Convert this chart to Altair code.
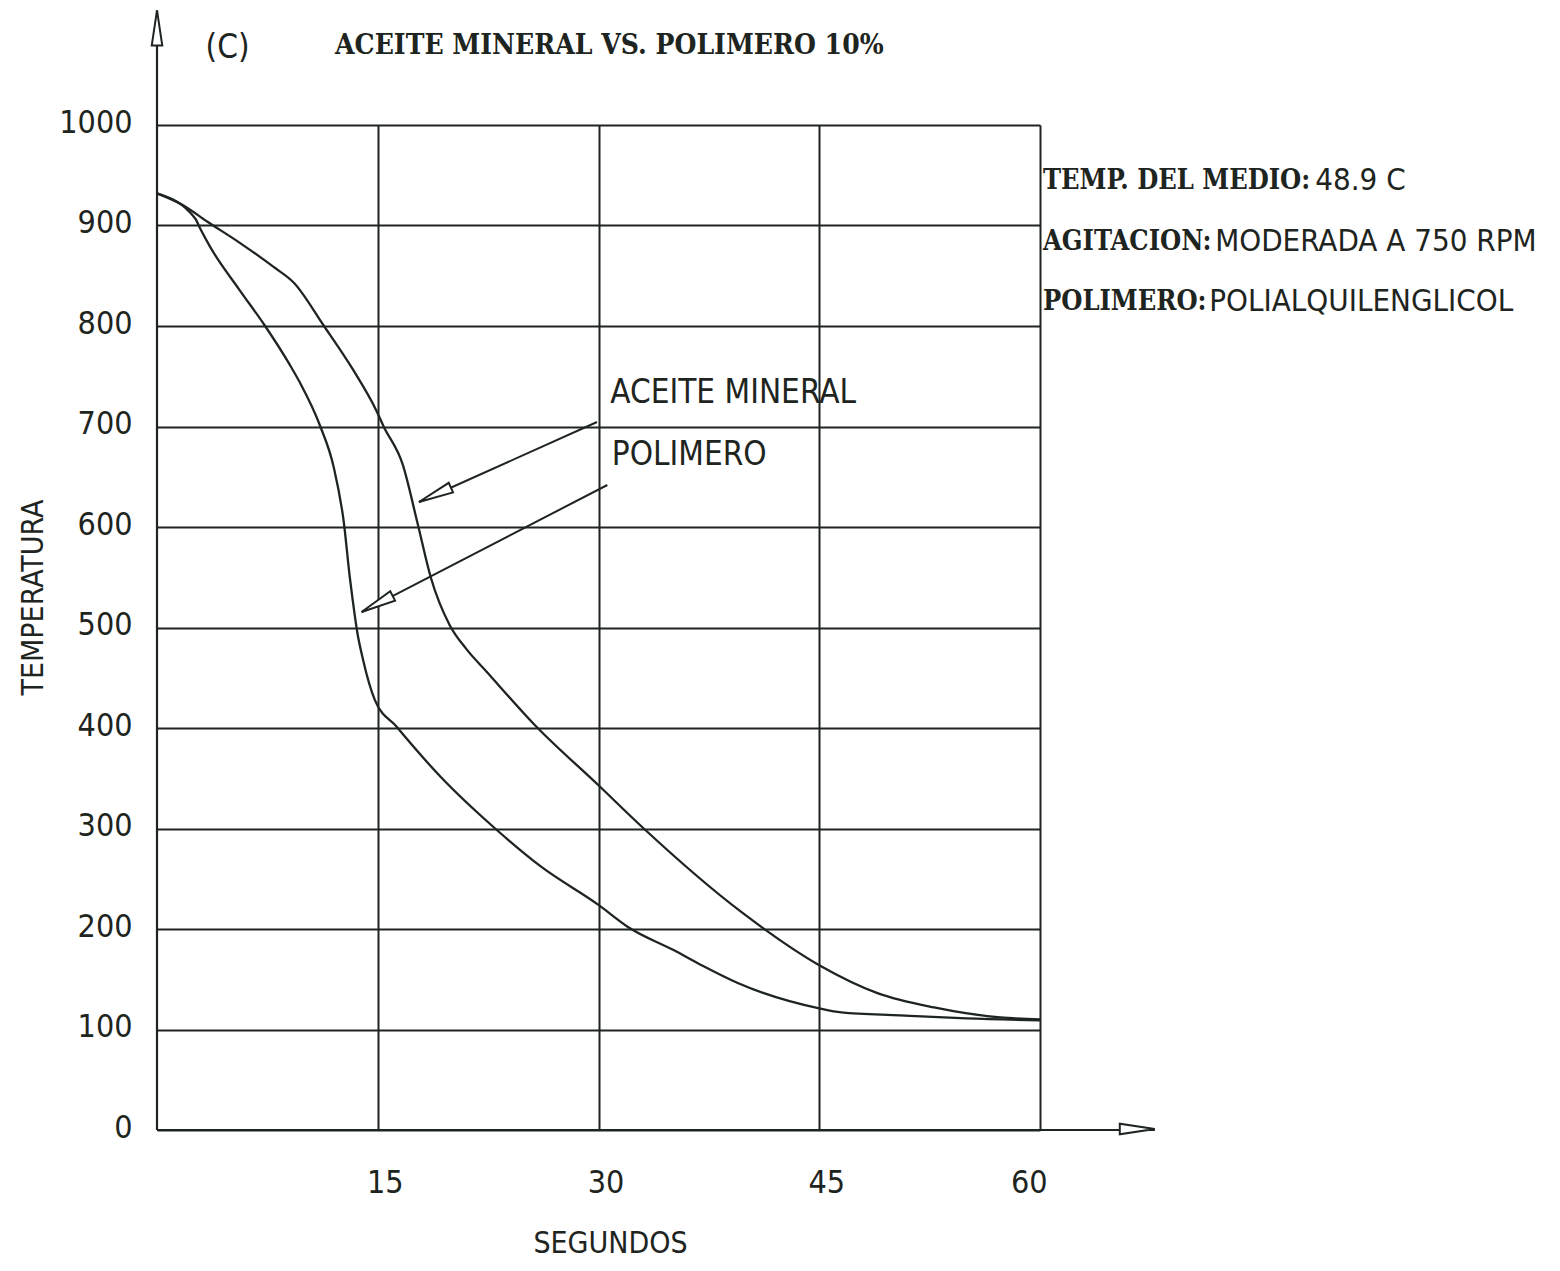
import math
import altair as alt
import pandas as pd

# ---------------- data ----------------
# Aceite mineral (slower cooling curve)
aceite_t = [0, 1.8, 3.4, 5.6, 7.9, 9.3, 11.3, 13.3, 14.9, 15.4, 16.7, 17.7, 18.6,
            19.9, 21.0, 22.4, 25.6, 30, 33, 39.7, 45, 49, 52.8, 57.3, 60]
aceite_v = [932, 920, 904, 883, 859, 843, 801, 757, 716, 700, 662, 604, 550,
            502, 479, 456, 404, 343, 301, 217, 164, 136, 122, 112, 110]

# Polimero 10% (faster cooling curve)
polimero_t = [0, 2.6, 2.9, 3.6, 5.6, 7.3, 9.0, 9.7, 11.1, 12.0, 12.7, 13.1, 13.3,
              13.6, 14.0, 14.8, 16.3, 19.3, 22.9, 26.1, 30, 32, 35.1, 37, 39.5,
              45, 46.5, 50.5, 55, 60]
polimero_v = [932, 907, 898, 879, 836, 801, 762, 744, 700, 660, 604, 550, 527,
              496, 468, 428, 401, 351, 301, 262, 224, 202, 179, 164, 146,
              121, 117, 114, 111, 109]

y_ticks = [0, 100, 200, 300, 400, 500, 600, 700, 800, 900, 1000]
x_ticks = [15, 30, 45, 60]

# pointer arrows (start -> tip), in data units
arrow_t = [29.9, 30.6]
arrow_v = [704.5, 641.8]
arrow_t2 = [17.8, 13.9]
arrow_v2 = [624.9, 515.4]

# axis arrow tips (y axis top, x axis right end)
axis_tip_t = [0, 67.8]
axis_tip_v = [1114, 1]

# annotation texts
thin_labels = ["(C)", "ACEITE MINERAL", "POLIMERO"]
thin_t = [3.3, 30.8, 30.9]
thin_v = [1077, 733, 672]

value_labels = ["48.9 C", "MODERADA A 750 RPM", "POLIALQUILENGLICOL"]
value_t = [78.7, 71.9, 71.5]
value_v = [944, 884, 824]

bold_labels = ["ACEITE MINERAL VS. POLIMERO 10%", "TEMP. DEL MEDIO:",
               "AGITACION:", "POLIMERO:"]
bold_t = [12.1, 60.2, 60.2, 60.2]
bold_v = [1079, 944, 884, 824]

# ---------------- build tables ----------------
curves = pd.concat([
    pd.DataFrame({"t": aceite_t, "v": aceite_v, "serie": "ACEITE MINERAL"}),
    pd.DataFrame({"t": polimero_t, "v": polimero_v, "serie": "POLIMERO"}),
])
arrows = pd.DataFrame({"t": arrow_t, "v": arrow_v, "t2": arrow_t2, "v2": arrow_v2})

W, H = 883, 1005
px_t = W / 60.0
px_v = H / 1000.0
heads_angle = []
for a, b, c, d in zip(arrow_t, arrow_v, arrow_t2, arrow_v2):
    dx = (c - a) * px_t
    dy = -(d - b) * px_v
    heads_angle.append((math.degrees(math.atan2(dy, dx)) + 90) % 360)
heads = pd.DataFrame({"t": arrow_t2 + axis_tip_t, "v": arrow_v2 + axis_tip_v,
                      "ang": heads_angle + [0, 90]})
axes_lines = pd.DataFrame({"t": [0, 0], "v": [0, 0], "t2": [0, axis_tip_t[1]],
                           "v2": [axis_tip_v[0], 0]})
thin = pd.DataFrame({"t": thin_t, "v": thin_v, "label": thin_labels})
values_df = pd.DataFrame({"t": value_t, "v": value_v, "label": value_labels})
title_df = pd.DataFrame({"t": bold_t[:1], "v": bold_v[:1], "label": bold_labels[:1]})
side_df = pd.DataFrame({"t": bold_t[1:], "v": bold_v[1:], "label": bold_labels[1:]})

INK = "#1e2420"
THIN_FONT = "DejaVu Sans Condensed, Liberation Sans Narrow, sans-serif"
BOLD_FONT = "DejaVu Serif Condensed, DejaVu Sans Condensed, serif"

xs = alt.Scale(domain=[0, 60], nice=False, zero=False)
ys = alt.Scale(domain=[0, 1000], nice=False, zero=False)

x_axis = alt.Axis(
    values=x_ticks, title="SEGUNDOS", grid=True, domain=False, ticks=False,
    tickSize=0, labelPadding=52, labelBaseline="middle", labelOffset=7,
    format="d", titleX=453, titleY=113, titleBaseline="middle",
    titleAlign="center", titleAngle=0)
y_axis = alt.Axis(
    values=y_ticks, title="TEMPERATURA", grid=True, domain=False, ticks=False,
    tickSize=0, labelPadding=25, labelOffset=-3, format="d",
    titleX=-124, titleY=472, titleAngle=270, titleBaseline="middle",
    titleAlign="center")


def X(field="t"):
    return alt.X(f"{field}:Q", scale=xs, axis=x_axis)


def Y(field="v"):
    return alt.Y(f"{field}:Q", scale=ys, axis=y_axis)


lines = alt.Chart(curves).mark_line(
    color=INK, strokeWidth=2.3, interpolate="monotone"
).encode(x=X(), y=Y(), detail="serie:N")

axis_rules = alt.Chart(axes_lines).mark_rule(color=INK, strokeWidth=2.2).encode(
    x=X(), y=Y(), x2="t2:Q", y2="v2:Q",
)

arrow_rules = alt.Chart(arrows).mark_rule(color=INK, strokeWidth=2).encode(
    x=X(), y=Y(), x2="t2:Q", y2="v2:Q",
)

head_marks = alt.Chart(heads).mark_point(
    shape="M0,0 L0.3,2 L-0.3,2 Z", size=1225, filled=True, fill="white",
    stroke=INK, strokeWidth=2, opacity=1,
).encode(x=X(), y=Y(), angle=alt.Angle("ang:Q", scale=None))

thin_text = alt.Chart(thin).mark_text(
    font=THIN_FONT, fontSize=33, align="left", baseline="middle", color=INK,
).encode(x=X(), y=Y(), text="label:N")

value_text = alt.Chart(values_df).mark_text(
    font=THIN_FONT, fontSize=31, align="left", baseline="middle", color=INK,
).encode(x=X(), y=Y(), text="label:N")

title_text = alt.Chart(title_df).mark_text(
    font=BOLD_FONT, fontSize=28, fontWeight="bold", align="left",
    baseline="middle", color=INK,
).encode(x=X(), y=Y(), text="label:N")

side_text = alt.Chart(side_df).mark_text(
    font=BOLD_FONT, fontSize=27, fontWeight="bold", align="left",
    baseline="middle", color=INK,
).encode(x=X(), y=Y(), text="label:N")

chart = alt.layer(
    lines, axis_rules, arrow_rules, head_marks, thin_text, value_text,
    title_text, side_text
).properties(
    width=W, height=H,
    autosize=alt.AutoSizeParams(type="none"),
    padding={"left": 149, "top": 117, "right": 512, "bottom": 133},
    background="white",
).configure_view(stroke=None).configure_axis(
    gridColor=INK, gridWidth=2, gridOpacity=1,
    labelFont=THIN_FONT, labelFontSize=32, labelColor=INK,
    titleFont=THIN_FONT, titleFontSize=30, titleFontWeight="normal", titleColor=INK,
)

chart.save("out.html", embed_options={"renderer": "svg", "actions": False})
